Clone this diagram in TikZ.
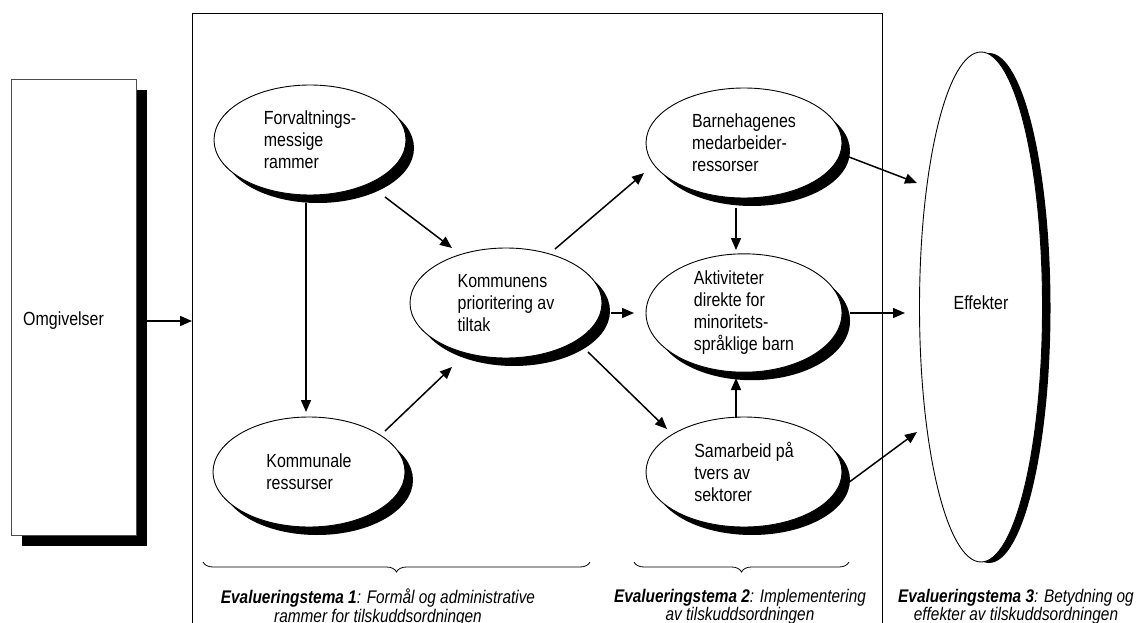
\documentclass[tikz,border=0pt]{standalone}
\usepackage{fontspec}
\setmainfont{Liberation Sans}[FakeStretch=0.84]
\usetikzlibrary{shapes.geometric,shadows,arrows.meta,calc,decorations.pathreplacing}
\begin{document}
\begin{tikzpicture}[x=1pt,y=-1pt,
  bodyfont/.style={font=\fontsize{19}{22}\selectfont},
  oval/.style={ellipse, draw, line width=0.9pt, fill=white, minimum width=192pt,
    minimum height=110pt, inner sep=0pt, align=left, bodyfont,
    drop shadow={shadow xshift=8pt, shadow yshift=-8pt, fill=black, opacity=1}},
  conn/.style={line width=1.5pt, -{Triangle[length=12pt,width=10pt]}},
  bracestyle/.style={line width=0.8pt, decorate, decoration={brace, mirror, amplitude=10pt}},
  captext/.style={align=center, inner sep=0pt, font=\fontsize{18.3}{18.5}\selectfont\itshape},
]
\clip (0,0) rectangle (1143,623);
\fill[white] (0,0) rectangle (1143,623);

% main frame
\node[draw, line width=1pt, minimum width=690pt, minimum height=700pt, anchor=north west, inner sep=0pt] (frame) at (192,13) {};

% Omgivelser
\node[draw=black!70, line width=0.8pt, fill=white, minimum width=125pt, minimum height=456pt, inner sep=0pt,
  drop shadow={shadow xshift=11pt, shadow yshift=-11pt, fill=black, opacity=1}] (omg) at (73.5,307) {};
\node[bodyfont, anchor=west, inner sep=0pt] (omgtxt) at (23,321) {Omgivelser};

% ovals
\node[oval] (forv) at (310,140) {Forvaltnings-\\messige\\rammer};
\node[oval] (komm) at (309,472) {Kommunale\\ressurser};
\node[oval] (kprio) at (506,303) {Kommunens\\prioritering av\\tiltak};
\node[oval, minimum width=196pt] (barn) at (744,143) {Barnehagenes\\medarbeider-\\ressorser};
\node[oval, minimum width=196pt] (akt) at (744,313) {Aktiviteter\\direkte for\\minoritets-\\språklige barn};
\node[oval, minimum width=196pt] (sam) at (744,472) {Samarbeid på\\tvers av\\sektorer};

% Effekter
\node[ellipse, draw, line width=0.9pt, fill=white, minimum width=123pt, minimum height=510pt, inner sep=0pt, bodyfont,
  drop shadow={shadow xshift=8pt, shadow yshift=-1pt, fill=black, opacity=1}] (eff) at (981,307) {\raisebox{9pt}{Effekter}};

% connectors
\draw[conn] ($(omg.east |- omgtxt)+(11,0)$) -- (frame.west |- omgtxt);
\draw[conn] ($(forv)+(-4,63)$) -- ($(komm)+(-3,-60)$);
\draw[conn] ($(forv)+(75,57)$) -- ($(kprio)+(-54,-55)$);
\draw[conn] ($(komm)+(76,-41)$) -- ($(kprio)+(-54,64)$);
\draw[conn] ($(kprio)+(49,-54)$) -- ($(barn)+(-100,30)$);
\draw[conn] ($(kprio)+(105,10)$) -- ($(akt)+(-110,0)$);
\draw[conn] ($(kprio)+(82,49)$) -- ($(sam)+(-77,-43)$);
\draw[conn] ($(barn)+(-8,65)$) -- ($(akt)+(-8,-63)$);
\draw[conn] ($(sam)+(-8,-54)$) -- ($(akt)+(-8,65)$);
\draw[conn] ($(barn)+(105,14)$) -- ($(eff)+(-64,-124)$);
\draw[conn] ($(akt)+(106,0)$) -- ($(eff)+(-76,6)$);
\draw[conn] ($(sam)+(104,11)$) -- ($(eff)+(-64,125)$);

% braces
\coordinate (b1l) at (203,562);
\coordinate (b1r) at (590,562);
\coordinate (b2l) at (634,562);
\coordinate (b2r) at (849,562);
\draw[bracestyle] (b1l) -- (b1r);
\draw[bracestyle] (b2l) -- (b2r);

% captions
\node[captext, anchor=north] (cap1) at (378,589) {\textbf{Evalueringstema 1}: Formål og administrative\\rammer for tilskuddsordningen};
\node[captext, anchor=north] (cap2) at (740,589) {\textbf{Evalueringstema 2}: Implementering\\av tilskuddsordningen};
\node[captext, anchor=north] (cap3) at (1016,589) {\textbf{Evalueringstema 3}: Betydning og\\effekter av tilskuddsordningen};
\end{tikzpicture}
\end{document}
